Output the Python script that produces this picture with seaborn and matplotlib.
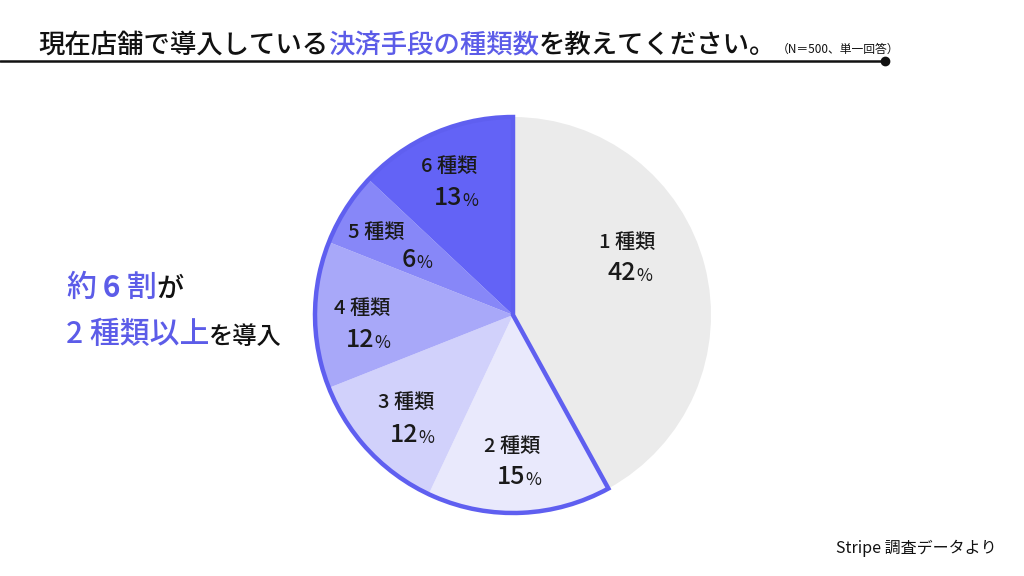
import matplotlib
matplotlib.use('Agg')
import matplotlib.pyplot as plt
import matplotlib.patches as mpatches
import seaborn as sns

# Data
categories = ['1種類', '2種類', '3種類', '4種類', '5種類', '6種類']
shares = [42, 15, 12, 12, 6, 13]
colors = ['#ebebeb', '#e9e9fc', '#d1d1fb', '#a8a8f9', '#8787f8', '#6363f6']

PURPLE = '#5c5ce8'
OUTLINE = '#5f5ff0'
W, H = 1024, 576

# Label layout in pixel coordinates (image y goes down)
cat_xy = [(627, 242), (512, 447), (406, 403), (362, 308), (376, 232), (449, 167)]
pct_xy = [(629, 273), (518, 477), (411, 435), (367, 340), (416, 260), (455, 198)]


def Y(py):
    return H - py


def draw_chart():
    sns.set_theme(style='white')
    plt.rcParams['font.family'] = ['Noto Sans CJK JP', 'DejaVu Sans']

    fig = plt.figure(figsize=(W / 100, H / 100), dpi=100)
    fig.patch.set_facecolor('white')
    ax = fig.add_axes([0, 0, 1, 1])

    cx, cy, R = 513, Y(315), 198
    wedges, _ = ax.pie(shares, colors=colors, startangle=90, counterclock=False,
                       center=(cx, cy), radius=R,
                       wedgeprops=dict(linewidth=0))

    # Outline around "2種類以上"
    rest = sum(shares[1:]) / sum(shares)
    ax.add_patch(mpatches.Wedge((cx, cy), R, 90, 90 + 360 * rest, fill=False,
                                edgecolor=OUTLINE, linewidth=3.2,
                                joinstyle='miter', zorder=5))

    ax.set_xlim(0, W)
    ax.set_ylim(0, H)
    ax.set_aspect('equal')
    ax.axis('off')

    # Slice labels
    for cat, val, (x1, y1), (x2, y2) in zip(categories, shares, cat_xy, pct_xy):
        label = cat[0] + ' ' + cat[1:]
        ax.text(x1, Y(y1), label, ha='center', va='center', fontsize=14.5,
                fontweight='medium', color='#1a1a1a', zorder=6)
        num = ax.text(x2 - 7, Y(y2), str(val), ha='center', va='center',
                      fontsize=18, fontweight='medium', color='#1a1a1a', zorder=6)
        ax.annotate('%', xy=(1, 0), xycoords=num, xytext=(0, 1),
                    textcoords='offset points', ha='left', va='bottom',
                    fontsize=12.5, color='#1a1a1a', zorder=6)

    # Title
    t1 = ax.text(38, Y(53), '現在店舗で導入している', fontsize=19,
                 fontweight='medium', va='baseline', ha='left', color='#111111')
    t2 = ax.annotate('決済手段の種類数', xy=(1, 0), xycoords=t1, va='bottom',
                     ha='left', fontsize=19, fontweight='medium', color=PURPLE)
    t3 = ax.annotate('を教えてください。', xy=(1, 0), xycoords=t2, va='bottom',
                     ha='left', fontsize=19, fontweight='medium', color='#111111')
    ax.annotate('（N＝500、単一回答）', xy=(1, 0), xycoords=t3, va='bottom',
                ha='left', fontsize=8.5, color='#111111', xytext=(0, 2),
                textcoords='offset points')
    ax.plot([0, 885], [Y(61), Y(61)], color='#111111', linewidth=1.8)
    ax.plot([885], [Y(61)], 'o', color='#111111', markersize=6)

    # Left callout
    a1 = ax.text(66, Y(296), '約', fontsize=21.5, fontweight='medium',
                 color=PURPLE, va='baseline')
    a2 = ax.annotate(' 6 ', xy=(1, 0), xycoords=a1, va='bottom', ha='left',
                     fontsize=21.5, fontweight='bold', color=PURPLE)
    a3 = ax.annotate('割', xy=(1, 0), xycoords=a2, va='bottom', ha='left',
                     fontsize=21.5, fontweight='medium', color=PURPLE)
    ax.annotate('が', xy=(1, 0), xycoords=a3, va='bottom', ha='left',
                fontsize=19.5, fontweight='medium', color='#111111')
    b1 = ax.text(66, Y(343), '2 種類以上', fontsize=21.5, fontweight='medium',
                 color=PURPLE, va='baseline')
    ax.annotate('を導入', xy=(1, 0), xycoords=b1, va='bottom', ha='left',
                fontsize=17.5, fontweight='medium', color='#111111')

    # Source
    ax.text(997, Y(553), 'Stripe 調査データより', fontsize=11.5, ha='right',
            va='baseline', color='#111111')

    fig.savefig('out.png', dpi=100)
    return fig


if __name__ == '__main__':
    draw_chart()
